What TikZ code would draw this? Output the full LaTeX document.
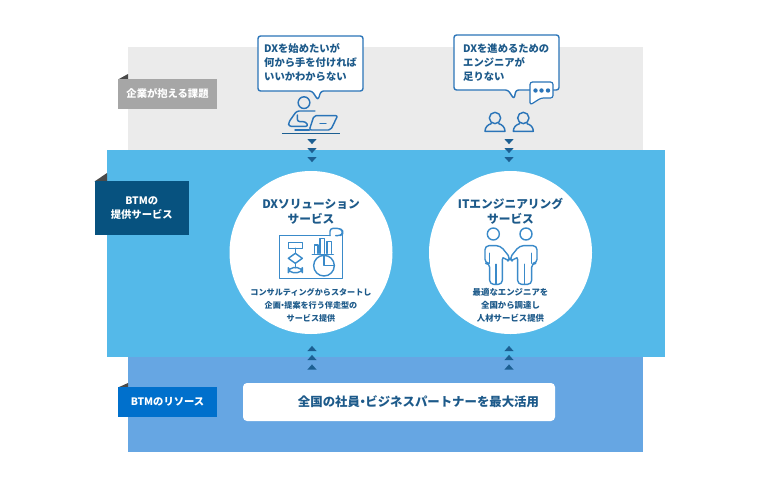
\documentclass[tikz,border=0pt]{standalone}
\usepackage{fontspec}
\setmainfont{Noto Sans CJK JP}
\usetikzlibrary{shapes.geometric}
\definecolor{graypanel}{HTML}{EBEBEB}
\definecolor{bluepanel}{HTML}{54B9E9}
\definecolor{lowpanel}{HTML}{66A6E3}
\definecolor{tagg}{HTML}{A6A6A6}
\definecolor{tagn}{HTML}{07527F}
\definecolor{tagb}{HTML}{0070CC}
\definecolor{folddark}{HTML}{4A4A4A}
\definecolor{icon}{HTML}{2A74B8}
\definecolor{iconlight}{HTML}{3A8AC9}
\definecolor{ink}{HTML}{1D5A8A}
\definecolor{arrowc}{HTML}{1C5F92}
\newcommand{\nd}{\kern-.28em ・\kern-.28em }
\tikzset{
  panel/.style={draw=none,inner sep=0,outer sep=0,anchor=north west},
  tagbox/.style={draw=none,inner sep=0,outer sep=0,anchor=north west,text=white,font=\bfseries\fontsize{10.3}{14}\selectfont,align=center},
  bubble/.style={draw=icon,line width=1.4pt,fill=white,rounded corners=2.5pt,line join=round},
  bubbletext/.style={text=ink,font=\bfseries\fontsize{10.3}{14}\selectfont,align=left,anchor=north west,inner sep=0},
  circ/.style={circle,fill=white,minimum size=163,inner sep=0},
  titletext/.style={text=ink,font=\bfseries\fontsize{11.7}{15}\selectfont,align=center,inner sep=0},
  desctext/.style={text=ink,font=\bfseries\fontsize{8.1}{13}\selectfont,align=center,inner sep=0},
  ico/.style={draw=icon,line width=1.45pt,line join=round,line cap=round},
  icol/.style={draw=iconlight,line width=1.4pt,line join=round,line cap=round},
  downtri/.pic={\fill[arrowc] (-4.6,-2.4) -- (4.6,-2.4) -- (0,2.6) -- cycle;},
  uptri/.pic={\fill[arrowc] (-4.6,2.6) -- (4.6,2.6) -- (0,-2.6) -- cycle;}
}
\begin{document}
\begin{tikzpicture}[x=1pt,y=-1pt]
\useasboundingbox (0,0) rectangle (768,488);
\fill[white] (0,0) rectangle (768,488);
% panels
\node[panel,fill=graypanel,minimum width=515,minimum height=103] (pgray) at (128,47) {};
\node[panel,fill=lowpanel,minimum width=515,minimum height=96] (plow) at (128,356) {};
\node[panel,fill=bluepanel,minimum width=558,minimum height=207] (pblue) at (107,150) {};
% tags
\fill[folddark] (118,79.5) -- (128,74) -- (128,79.5) -- cycle;
\node[tagbox,fill=tagg,minimum width=99,minimum height=30] (t1) at (118,79) {企業が抱える課題};
\fill[folddark] (94.5,181.5) -- (107,173) -- (107,181.5) -- cycle;
\node[tagbox,fill=tagn,minimum width=94.5,minimum height=54] (t2) at (94.5,181) {BTMの\\提供サービス};
\fill[folddark] (118,387.5) -- (128,383) -- (128,387.5) -- cycle;
\node[tagbox,fill=tagb,minimum width=99,minimum height=30] (t3) at (118,387) {BTMのリソース};
% white bar
\node[panel,fill=white,rounded corners=4pt,minimum width=312,minimum height=38] (bar) at (243,383) {};
\node[text=ink,font=\bfseries\fontsize{12.4}{14}\selectfont,inner sep=0] (bartext) at (418.5,402) {全国の社員\nd ビジネスパートナーを最大活用};
% bubbles
\draw[bubble] (258,36) -- (363,36) -- (363,91) -- (321,91) -- (318,100) -- (312,91) -- (258,91) -- cycle;
\node[bubbletext] (b1) at (264,43.5) {DXを始めたいが\\何から手を付ければ\\いいかわからない};
\draw[bubble] (454,35) -- (559,35) -- (559,90) -- (516,90) -- (514,99) -- (508,90) -- (454,90) -- cycle;
\node[bubbletext] (b2) at (463,43.5) {DXを進めるための\\エンジニアが\\足りない};
\draw[bubble,line width=1.2pt] (530,82) -- (553,82) -- (553,98) -- (541,98) -- (530,105) -- cycle;
\foreach \x in {535.5,541.5,548}{\fill[icon] (\x,90.5) circle (2.2);}
% worker icon
\begin{scope}[shift={(240,25)},x=0.3333pt,y=-0.3333pt]
\draw[ico] (192,233) circle (17.5);
\draw[ico,rounded corners=2.5pt] (225,258) -- (170,258) -- (146,292) -- (146,304) -- (205,304) -- (197,290) -- (172,290) -- (172,270);
\draw[ico,rounded corners=2pt] (222,272) -- (293,272) -- (272,315) -- (208,315) -- cycle;
\draw[ico] (240,295) -- (258,295);
\draw[ico] (165,315) -- (208,315);
\draw[draw=arrowc,line width=1.6pt] (126,326) -- (300,326);
\end{scope}
% two users
\begin{scope}[shift={(440,25)},x=0.3333pt,y=-0.3333pt]
\foreach \cx in {165,250}{
 \draw[ico] (\cx,279) circle (17);
 \draw[ico] (\cx-11,296) .. controls (\cx-22,299) and (\cx-30,307) .. (\cx-30,319) -- (\cx+30,319) .. controls (\cx+30,307) and (\cx+22,299) .. (\cx+11,296);
}
\end{scope}
% triangles
\foreach \y in {141.5,150.5,159.5}{\pic at (312,\y) {downtri}; \pic at (509,\y) {downtri};}
\foreach \y in {348.5,357.5,367}{\pic at (312,\y) {uptri}; \pic at (509,\y) {uptri};}
% circles
\node[circ] (c1) at (311,252.5) {};
\node[circ] (c2) at (510.5,252.5) {};
\node[titletext] (c1t) at (311,211.5) {DXソリューション\\サービス};
\node[titletext] (c2t) at (510.5,211.5) {ITエンジニアリング\\サービス};
\node[desctext] (c1d) at (311,305.5) {コンサルティングからスタートし\\企画\nd 提案を行う伴走型の\\サービス提供};
\node[desctext,font=\bfseries\fontsize{8.4}{13}\selectfont] (c2d) at (510.5,305.5) {最適なエンジニアを\\全国から調達し\\人材サービス提供};
% dashboard icon
\begin{scope}[shift={(225,195)},x=0.3333pt,y=-0.3333pt]
\draw[icol] (315,122) -- (163,122) -- (163,250) -- (353,250) -- (353,112);
\draw[icol,rounded corners=3pt] (315,122) -- (315,100) -- (345,100) -- (353,108) -- (353,116) -- (346,122) -- (332,122);
\draw[icol] (190,142) rectangle (232,160);
\draw[icol] (211,160) -- (211,175);
\draw[icol] (211,175) -- (232,190) -- (211,205) -- (190,190) -- cycle;
\draw[icol] (211,205) -- (211,218);
\draw[icol,rounded corners=5pt] (190,218) rectangle (232,233);
\draw[icol] (268,175) -- (268,150) -- (279,150) -- (279,175);
\draw[icol] (285,175) -- (285,130) -- (298,130) -- (298,175);
\draw[icol] (306,175) -- (306,140) -- (319,140) -- (319,175);
\draw[icol] (262,178) -- (325,178);
\draw[icol] (297,212) circle (31);
\draw[icol] (297,181) -- (297,212) -- (328,212);
\end{scope}
% handshake icon
\begin{scope}[shift={(425,195)},x=0.3333pt,y=-0.3333pt]
\draw[icol] (205,117) circle (18);
\draw[icol] (303,117) circle (18);
\draw[icol,rounded corners=4pt] (212,268) -- (194,268) -- (194,205) -- (180,205) -- (180,152) -- (226,152) -- (257,190) -- (247,200) -- (232,182) -- (232,268) -- (212,268);
\draw[icol] (194,175) -- (194,205);
\draw[icol] (213,208) -- (213,268);
\draw[icol,rounded corners=4pt] (298,268) -- (320,268) -- (320,205) -- (336,205) -- (336,152) -- (284,152) -- (253,190) -- (263,200) -- (278,182) -- (278,268) -- (298,268);
\draw[icol] (320,175) -- (320,205);
\draw[icol] (299,208) -- (299,268);
\end{scope}
\end{tikzpicture}
\end{document}
